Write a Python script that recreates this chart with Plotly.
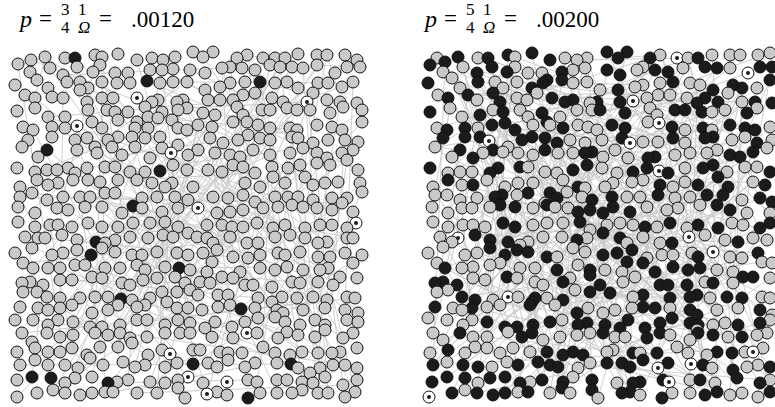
import plotly.graph_objects as go

# ---------------- data ----------------
# panel titles
frac_num = ["3", "5"]
frac_den = ["4", "4"]
p_labels = [".00120", ".00200"]
p_values = [0.00120, 0.00200]

# node layout coordinates (layout units, y grows downward), per node state
left_gray = [
    (13,24),(26,20),(40,17),(60,18),(90,15),(97,17),(113,14),(132,20),(147,18),(158,20),(170,17),
    (25,32),(45,28),(72,27),(95,25),(88,32),(110,33),(123,33),(145,30),(157,30),(168,29),(185,30),
    (10,45),(32,40),(58,35),(62,42),(75,42),(97,42),(112,43),(125,43),(155,43),(168,42),(182,42),
    (20,55),(43,48),(47,57),(58,58),(75,50),(83,48),(97,58),(108,58),(147,62),(153,60),(172,62),(178,60),(182,68),
    (30,58),(30,68),(82,62),(83,70),(102,70),(110,72),(123,72),(140,67),(143,77),(157,72),(173,70),
    (12,71),(43,77),(60,77),(87,82),(97,88),(113,80),(132,82),(153,78),(167,80),
    (18,87),(28,90),(47,87),(47,97),(60,88),(130,88),(143,88),(173,88),(182,90),
    (23,100),(17,107),(70,100),(82,98),(103,100),(113,97),(127,97),(140,98),(155,97),(173,105),(183,115),
    (33,117),(72,110),(90,107),(92,113),(107,107),(117,115),(130,107),(145,118),(157,108),
    (12,128),(30,132),(42,130),(52,130),(63,128),(70,133),(82,128),(100,127),(110,127),(125,132),(140,132),(168,125),(182,130),
    (15,147),(32,140),(43,145),(53,143),(68,140),(83,140),(95,142),(113,140),(132,140),(147,143),(160,147),(167,143),
    (15,157),(27,153),(42,160),(58,157),(75,157),(85,157),(100,153),(110,153),(137,158),(152,157),(170,157),(183,160),
    (13,167),(30,173),(52,168),(63,170),(80,167),(97,167),(117,173),(137,168),(157,172),(173,168),
    (188,12),(198,17),(208,12),(232,18),(242,15),(258,18),(270,18),(280,18),(293,14),(312,15),(322,15),(340,15),(352,20),(355,27),
    (217,28),(225,27),(237,28),(250,30),(265,25),(275,27),(287,27),(298,28),(312,25),(330,33),(342,27),
    (200,33),(240,42),(225,43),(215,47),(270,43),(282,42),(293,48),(313,43),(323,43),(337,47),(348,42),
    (200,50),(203,60),(215,60),(228,60),(238,55),(250,53),(267,58),(278,62),(308,53),(322,60),(335,62),(338,67),(352,63),(357,70),
    (198,73),(210,75),(232,67),(238,75),(257,70),(265,70),(282,68),(292,70),(305,70),(325,73),
    (193,85),(207,87),(228,82),(242,82),(253,85),(265,88),(285,88),(292,90),(312,85),(327,87),(337,90),(357,82),
    (205,98),(218,103),(233,100),(243,95),(255,98),(265,100),(287,97),(293,98),(308,103),(323,100),(340,100),(353,102),
    (193,110),(210,113),(225,115),(235,117),(248,110),(265,115),(285,113),(298,108),(312,113),(322,118),(337,113),(348,110),
    (203,130),(217,132),(228,125),(238,127),(250,133),(267,127),(283,128),(295,125),(312,123),(325,125),(342,120),(353,130),
    (240,143),(255,147),(268,137),(280,143),(300,137),(308,145),(320,143),(333,142),(355,143),(357,152),
    (188,147),(208,157),(223,158),(238,155),(250,162),(270,157),(283,157),(293,157),(308,160),(327,158),(342,158),
    (212,173),(225,172),(238,170),(258,168),(273,167),(287,165),(298,167),(312,168),(327,170),(337,163),(348,172),
    (13,182),(30,187),(45,185),(53,185),(67,187),(83,183),(97,187),(113,187),(128,183),(145,183),(160,182),(173,187),(183,193),
    (20,197),(33,198),(40,198),(57,195),(72,200),(100,203),(110,200),(125,197),(143,198),(158,195),(168,197),
    (10,213),(27,208),(47,215),(58,213),(72,210),(97,208),(110,212),(127,215),(137,215),(152,212),(172,213),(183,215),
    (18,223),(28,228),(43,228),(55,228),(70,225),(80,225),(100,228),(115,228),(132,225),(140,230),(160,227),(185,230),
    (17,243),(25,242),(38,245),(55,240),(67,240),(87,237),(97,238),(117,243),(125,245),(138,240),(152,238),(170,237),(180,243),
    (18,252),(32,252),(42,257),(55,258),(75,258),(90,257),(103,257),(127,260),(145,258),(157,252),(172,252),(185,250),
    (15,267),(33,268),(43,270),(55,268),(67,265),(87,273),(103,270),(113,265),(132,267),(140,265),(162,262),(172,268),(183,268),
    (10,280),(28,280),(43,285),(53,280),(68,282),(85,287),(97,287),(115,285),(132,280),(142,280),(160,285),(173,280),(185,283),
    (17,293),(27,302),(42,293),(55,297),(68,295),(90,293),(103,295),(115,293),(125,298),(142,297),(160,293),(175,293),(185,293),
    (12,312),(30,308),(43,312),(55,312),(67,308),(82,315),(95,307),(113,307),(127,303),(143,315),(157,310),(188,310),
    (15,325),(30,320),(43,325),(60,325),(73,328),(85,318),(98,325),(118,322),(130,327),(140,325),(160,327),(172,323),
    (12,340),(60,343),(70,338),(87,337),(112,342),(123,340),(145,342),(160,343),(173,340),
    (12,357),(32,353),(48,350),(60,353),(75,355),(87,353),(100,352),(108,352),(132,353),(152,353),(173,348),(180,358),
    (202,185),(217,185),(227,187),(238,187),(252,183),(268,188),(280,185),(300,188),(315,185),(327,185),(342,188),
    (192,197),(202,198),(208,203),(225,197),(242,203),(253,203),(270,197),(285,195),(300,198),(313,203),(322,202),(342,198),(348,198),
    (198,213),(212,210),(228,217),(243,218),(255,215),(273,213),(280,215),(295,212),(313,217),(325,217),(340,213),(357,215),(348,223),
    (202,232),(207,222),(217,237),(235,232),(255,228),(270,230),(282,227),(298,230),(315,230),(323,228),(335,237),(352,238),
    (195,242),(205,243),(228,238),(240,245),(248,245),(267,247),(287,242),(295,243),(313,242),(328,245),
    (193,255),(213,255),(223,255),(253,258),(267,262),(277,257),(292,258),(308,257),(322,260),(342,257),(350,258),
    (197,270),(213,267),(225,265),(250,268),(272,270),(278,273),(298,270),(320,268),(340,270),(353,273),
    (200,288),(210,282),(227,287),(240,282),(253,278),(270,277),(280,282),(295,285),(310,280),(320,285),(342,280),(353,282),
    (207,297),(228,298),(252,293),(273,298),(282,292),(293,295),(310,297),(320,290),(338,298),(348,293),
    (195,310),(215,312),(223,313),(237,313),(258,307),(270,313),(285,315),(297,312),(313,313),(327,313),(335,312),(352,308),
    (203,323),(212,327),(223,320),(240,327),(250,323),(272,323),(293,328),(305,333),(315,328),(328,325),(340,325),(352,328),
    (198,343),(243,340),(252,342),(272,340),(282,340),(297,342),(308,343),(320,337),(338,345),(352,340),
    (212,352),(222,355),(255,353),(272,353),(287,353),(297,350),(313,353),(323,353),(340,357),(350,352),
]
left_black = [
    (70,18),(142,41),(42,110),(155,131),(128,166),(255,42),(91,202),(86,215),(174,228),
    (116,259),(188,324),(27,337),(46,338),(103,343),(236,269),(286,324),(243,358),
]
left_seed = [
    (132,58),(72,86),(166,113),(302,62),(193,168),(165,314),(183,337),(351,183),
    (242,293),(222,342),(202,354),
]

right_gray = [
    (27,18),(68,18),(105,17),(155,18),(167,20),(177,18),
    (33,32),(42,38),(53,27),(105,27),(118,33),(132,33),(163,30),(175,28),
    (50,48),(85,42),(93,48),(107,42),(163,43),(177,42),
    (28,55),(67,60),(107,58),(117,60),(127,53),(180,63),
    (40,68),(52,77),(83,70),(110,70),(118,77),(150,77),(167,70),(182,70),
    (27,88),(68,88),(123,85),(140,85),(168,85),(178,87),
    (25,107),(98,107),(160,100),(175,103),
    (42,117),(73,113),(93,112),(108,113),(123,115),(148,113),(163,113),
    (38,133),(50,132),(62,132),(118,127),(135,132),(147,133),
    (23,147),(52,145),(77,140),(95,147),(108,143),(123,143),(153,140),(175,148),
    (25,155),(37,155),(50,160),(67,158),(107,155),(135,163),(157,152),(172,157),
    (22,167),(38,173),(52,168),(62,168),(80,167),(123,168),(145,167),(158,168),
    (250,15),(278,18),(302,15),(320,15),(330,15),(348,15),(360,13),
    (227,30),(233,27),(273,28),(320,28),
    (190,50),(225,47),(233,45),(250,43),(280,43),(290,45),(318,53),(347,48),
    (237,58),(248,55),(260,55),(277,58),(332,62),
    (240,68),(247,75),(302,72),(315,70),(347,68),
    (187,90),(238,82),(275,90),(302,90),(360,87),
    (192,100),(233,102),(248,102),(275,103),(322,100),(335,97),(362,100),
    (193,117),(205,110),(218,118),(265,115),(280,113),(297,113),(307,110),(357,108),
    (192,128),(207,133),(275,128),(317,132),(335,127),(347,127),
    (195,147),(203,143),(222,142),(233,140),(263,147),(275,142),(343,142),
    (217,157),(230,157),(265,158),(280,157),(332,160),
    (237,167),(257,170),(268,168),(290,165),(337,173),(360,173),
    (23,182),(38,187),(53,185),(63,185),(75,187),(123,185),(137,183),(153,183),(180,190),
    (30,197),(42,202),(110,205),(118,202),(133,197),(152,197),(177,198),
    (18,213),(33,207),(55,215),(67,213),(147,217),(163,208),(175,212),
    (27,223),(52,228),(63,227),(80,225),(90,223),(110,228),(125,228),(168,225),
    (63,238),(75,240),(107,238),(125,242),(133,245),(160,238),
    (27,252),(38,250),(83,260),(108,257),(137,258),(165,250),
    (43,268),(52,270),(77,267),(90,265),(145,265),(178,268),
    (18,278),(37,280),(53,285),(62,280),(152,280),
    (23,293),(33,300),(63,297),(77,297),(98,292),(133,300),(150,297),(167,295),(180,293),
    (20,313),(55,313),(65,307),(77,308),(90,313),(103,308),(120,312),
    (37,322),(82,327),(97,322),(168,328),(180,323),
    (68,343),(120,342),(163,337),
    (55,350),(108,352),(140,353),(160,353),
    (197,185),(210,183),(223,185),(247,187),(277,188),(322,183),(333,185),
    (217,203),(233,197),(250,203),(295,195),(315,200),(343,198),(357,200),
    (237,218),(252,215),(263,215),(282,213),(320,217),(332,218),(352,222),(362,223),
    (195,230),(212,232),(307,230),(323,232),(360,238),
    (213,242),(225,237),(295,242),(323,243),
    (223,257),(300,258),(352,257),(360,258),
    (193,273),(205,270),(222,268),(260,268),(307,270),(328,268),(362,275),
    (303,285),(315,283),(360,280),(287,290),
    (205,297),(215,297),(260,295),(280,300),(318,297),(347,295),(357,293),
    (197,312),(203,310),(230,313),(267,307),(278,313),(297,315),(335,312),(353,308),
    (302,328),(337,327),(348,325),
    (207,343),(280,340),(305,343),(360,340),
    (188,358),(230,355),(262,353),(280,353),(320,355),(332,353),(348,357),
]
right_black = [
    (20,25),(35,22),(48,17),(78,18),(98,15),(122,13),(140,20),
    (67,33),(82,27),(97,32),(137,40),(152,32),
    (18,43),(68,42),(122,48),(133,43),(152,40),
    (38,58),(58,55),(83,53),(90,62),(142,58),(155,62),(163,60),
    (20,72),(70,75),(93,72),(132,73),(137,82),
    (37,90),(55,88),(82,85),(95,83),(105,90),(153,88),
    (33,98),(55,97),(70,97),(83,110),(112,100),(122,97),(135,98),(147,103),(182,112),
    (50,110),(63,118),(135,110),(175,113),
    (20,128),(80,133),(88,128),(110,127),(163,130),(177,125),
    (38,140),(63,145),(140,153),(168,147),
    (85,157),(92,155),(118,153),(147,158),(182,160),
    (90,165),(105,167),(137,165),(168,172),(180,170),
    (197,12),(208,18),(217,12),(240,18),(288,18),
    (197,30),(210,35),(245,30),(258,32),(295,27),(307,28),(350,27),(362,27),
    (208,50),(263,42),(303,50),(323,45),(332,48),(360,40),
    (187,62),(210,62),(287,63),(295,58),(308,62),(345,62),(362,63),
    (190,70),(215,73),(265,70),(275,70),(292,72),(337,73),
    (202,85),(215,88),(262,87),(293,88),(320,85),(335,88),(345,90),
    (212,98),(263,98),(295,98),(303,97),(347,103),
    (238,118),(245,117),(320,115),(330,117),(343,112),
    (223,132),(237,128),(258,133),(293,128),(303,125),(360,132),
    (250,145),(288,145),(308,137),(318,147),(355,145),
    (202,157),(248,155),(297,155),(313,155),(350,158),(362,162),
    (193,173),(203,167),(220,172),(307,165),(320,170),
    (93,183),(105,187),(170,182),
    (65,195),(80,200),(80,208),(98,202),(167,200),
    (95,215),(107,210),(118,212),(137,217),
    (35,228),(147,230),(180,230),
    (25,243),(33,242),(47,245),(97,237),(153,242),(180,235),
    (52,257),(65,260),(122,262),(125,258),(153,260),(180,252),
    (25,267),(62,268),(120,265),(167,273),
    (77,282),(95,287),(107,287),(123,285),(140,282),(168,285),(177,283),
    (50,293),(112,297),(122,293),
    (38,310),(137,312),(153,315),(163,312),(173,315),
    (23,325),(53,325),(68,327),(108,325),(128,322),(140,325),(148,327),
    (22,342),(37,337),(55,338),(80,338),(95,337),(110,343),(132,340),(153,342),(182,340),
    (42,353),(67,353),(83,355),(95,353),(118,352),(152,348),(182,350),
    (235,187),(260,183),(288,185),(308,188),(350,188),(360,183),
    (193,193),(210,198),(262,203),(328,202),
    (193,215),(207,213),(222,210),(288,217),(348,213),
    (217,222),(233,223),(245,232),(263,227),(278,230),(290,228),(333,237),(343,237),
    (190,245),(250,245),(258,245),(277,245),(303,243),
    (200,253),(233,255),(260,258),(280,257),(287,255),(317,257),(332,258),
    (233,267),(245,268),(280,270),(287,275),(350,270),
    (195,285),(210,288),(218,280),(235,288),(250,283),(262,278),(280,283),(288,285),(328,285),(350,283),
    (193,293),(237,298),(250,293),(288,293),(303,295),(332,297),
    (223,313),(247,313),(307,312),(322,313),
    (197,323),(212,323),(220,327),(233,320),(258,323),(293,325),(323,330),(360,327),
    (223,343),(230,342),(253,340),(290,340),(327,338),(350,343),
    (212,353),(220,352),(252,358),(295,355),(307,352),(360,352),
]
right_seed = [
    (79,101),(267,18),(338,33),(223,61),(249,83),(220,103),(249,131),
    (48,198),(98,257),(19,357),(279,197),(303,212),(343,312),(248,328),(281,324),(259,342),
]

# ---------------- styling ----------------
GRAY = "#c9c9c9"
BLACK = "#1b1b1b"
WHITE = "#ffffff"
EDGE = "#c9c9c9"
SERIF = "Liberation Serif, DejaVu Serif, serif"
W, H = 775, 407

fig = go.Figure()


def add_panel(gray, black, seed, p, xa, ya):
    nodes = [(x, y, GRAY) for x, y in gray] + [(x, y, BLACK) for x, y in black] + \
            [(x, y, WHITE) for x, y in seed]
    nodes.sort(key=lambda n: (n[1], n[0]))
    n = len(nodes)
    # number of links implied by the edge probability p of the panel
    n_edges = round(p * n * (n - 1) / 2)
    ex, ey = [], []
    k, made = 0, 0
    while made < n_edges:
        i = (k * 53 + 17) % n
        j = (k * k * 7 + k * 211 + 5) % n
        k += 1
        if i == j:
            continue
        ex += [nodes[i][0], nodes[j][0], None]
        ey += [nodes[i][1], nodes[j][1], None]
        made += 1
    fig.add_trace(go.Scatter(x=ex, y=ey, mode="lines", xaxis=xa, yaxis=ya,
                             line=dict(color=EDGE, width=0.9), hoverinfo="skip",
                             showlegend=False))
    fig.add_trace(go.Scatter(x=[t[0] for t in nodes], y=[t[1] for t in nodes], mode="markers",
                             xaxis=xa, yaxis=ya, showlegend=False, hoverinfo="skip",
                             marker=dict(size=12, color=[t[2] for t in nodes],
                                         line=dict(color="#111111", width=1))))
    fig.add_trace(go.Scatter(x=[s[0] for s in seed], y=[s[1] for s in seed], mode="markers",
                             xaxis=xa, yaxis=ya, showlegend=False, hoverinfo="skip",
                             marker=dict(size=4, color=BLACK, line=dict(width=0))))


add_panel(left_gray, left_black, left_seed, p_values[0], "x", "y")
add_panel(right_gray, right_black, right_seed, p_values[1], "x2", "y2")


def txt(s, px, py, size, anchor="center", italic=False):
    if italic:
        s = "<i>" + s + "</i>"
    fig.add_annotation(text=s, x=px / W, y=1 - py / H, xref="paper", yref="paper",
                       xanchor=anchor, yanchor="middle", showarrow=False,
                       font=dict(family=SERIF, size=size, color="black"))


for k, dx in enumerate([0, 405]):
    txt("p", 25 + dx, 19, 24, italic=True)
    txt("=", 45 + dx, 18, 23)
    txt(frac_num[k], 65 + dx, 9, 17)
    txt(frac_den[k], 65 + dx, 27, 17)
    txt("1", 82 + dx, 9, 17)
    txt("Ω", 84 + dx, 27, 17, italic=True)
    txt("=", 105 + dx, 18, 23)
    txt(p_labels[k], 129 + dx, 20, 23, anchor="left")

ax = dict(visible=False, showgrid=False, zeroline=False, fixedrange=True)
fig.update_layout(
    width=W, height=H, margin=dict(l=0, r=0, t=0, b=0),
    paper_bgcolor="white", plot_bgcolor="white",
    xaxis=dict(domain=[0, 400 / W], range=[-5, 395], **ax),
    yaxis=dict(domain=[0, 1], range=[367, -40], **ax),
    xaxis2=dict(domain=[400 / W, 1], range=[-10, 365], **ax),
    yaxis2=dict(domain=[0, 1], range=[367, -40], anchor="x2", **ax),
)

fig.write_html("out.html", config={"displayModeBar": False},
               post_script="document.body.style.margin='0';")
